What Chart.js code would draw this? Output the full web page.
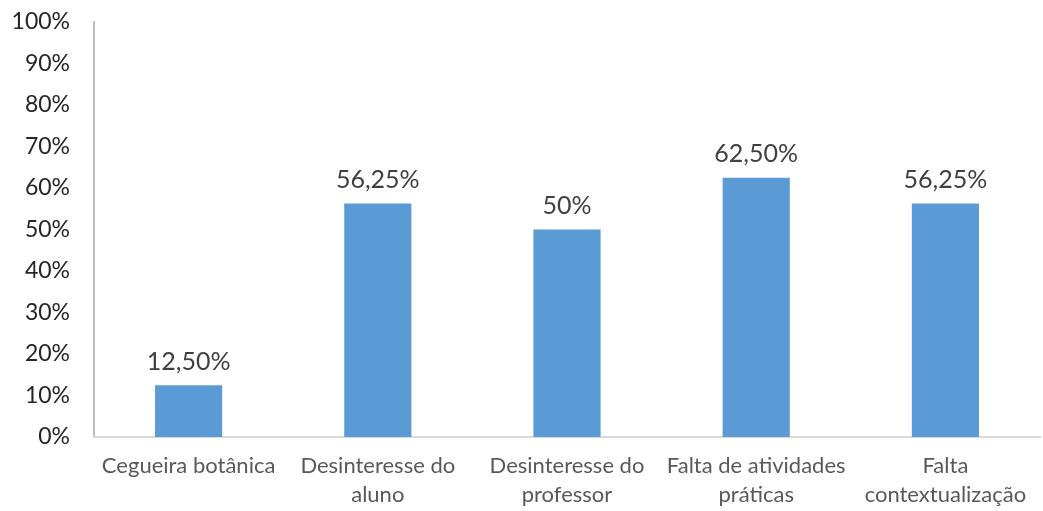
<!DOCTYPE html>
<html><head><meta charset="utf-8">
<script src="https://cdn.jsdelivr.net/npm/chart.js@4/dist/chart.umd.min.js"></script>
<style>html,body{margin:0;padding:0;background:#fff}#wrap{width:1043px;height:511px}</style>
</head><body><div id="wrap"><canvas id="c"></canvas></div>
<script>
const categories = [["Cegueira botânica"],["Desinteresse do","aluno"],["Desinteresse do","professor"],["Falta de atividades","práticas"],["Falta","contextualização"]];
const values = [12.5, 56.25, 50, 62.5, 56.25];
const valueLabels = ["12,50%","56,25%","50%","62,50%","56,25%"];
const FONT = "Lato, 'Open Sans', sans-serif";

const dataLabels = {
  id:'dataLabels',
  afterDatasetsDraw(chart){
    const ctx = chart.ctx;
    const meta = chart.getDatasetMeta(0);
    ctx.save();
    ctx.font = "25px " + FONT;
    ctx.fillStyle = "#404040";
    ctx.textAlign = "center";
    ctx.textBaseline = "bottom";
    meta.data.forEach((bar,i)=>{ ctx.fillText(valueLabels[i], bar.x, bar.y - 11); });
    ctx.restore();
  }
};

new Chart(document.getElementById('c'), {
  type:'bar',
  data:{labels:categories, datasets:[{data:values, backgroundColor:'#5B9BD5', barPercentage:0.355, categoryPercentage:1}]},
  options:{
    responsive:true, maintainAspectRatio:false, animation:false,
    layout:{padding:{top:22,right:3,left:0,bottom:0}},
    plugins:{legend:{display:false}, tooltip:{enabled:false}},
    scales:{
      y:{min:0,max:100,
        ticks:{stepSize:10, callback:v=>v+'%', color:'#262626', font:{family:FONT,size:23}, padding:24},
        grid:{display:false, drawTicks:false},
        border:{display:true,color:'#BFBFBF',width:2},
        afterFit(s){ s.width = 94; s.paddingTop = 0; s.paddingBottom = 0; }
      },
      x:{
        ticks:{color:'#595959', font:{family:FONT,size:22,lineHeight:1.32}, padding:14, maxRotation:0, autoSkip:false},
        grid:{display:false, drawTicks:false},
        border:{display:true,color:'#D9D9D9',width:2},
        afterFit(s){ s.height = 74; s.paddingLeft = 0; s.paddingRight = 0; }
      }
    }
  },
  plugins:[dataLabels]
});
</script></body></html>
